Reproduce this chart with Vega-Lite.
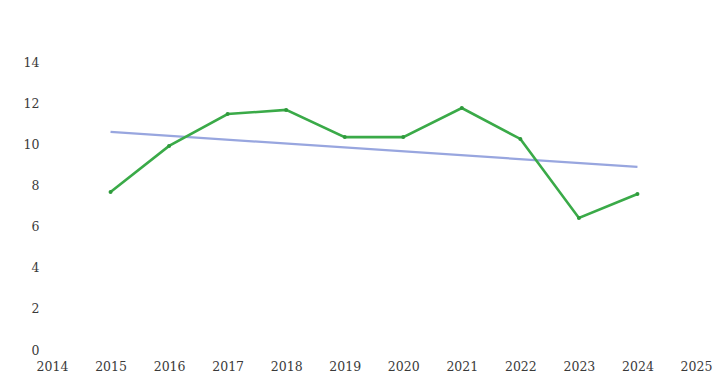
{
  "$schema": "https://vega.github.io/schema/vega-lite/v6.json",
  "autosize": "none",
  "width": 644,
  "height": 288,
  "padding": {"left": 52, "top": 62, "right": 26, "bottom": 42},
  "background": "white",
  "config": {"view": {"stroke": null}, "axis": {"labelFont": "DejaVu Serif"}},
  "datasets": {
    "main": [
      {"year": 2015, "value": 7.68},
      {"year": 2016, "value": 9.92},
      {"year": 2017, "value": 11.47},
      {"year": 2018, "value": 11.67},
      {"year": 2019, "value": 10.35},
      {"year": 2020, "value": 10.35},
      {"year": 2021, "value": 11.76},
      {"year": 2022, "value": 10.26},
      {"year": 2023, "value": 6.42},
      {"year": 2024, "value": 7.58}
    ],
    "trend": [
      {"year": 2015, "value": 10.6},
      {"year": 2024, "value": 8.9}
    ]
  },
  "encoding": {
    "x": {
      "field": "year", "type": "quantitative",
      "scale": {"domain": [2014, 2025], "nice": false, "zero": false},
      "axis": {"title": null, "values": [2014,2015,2016,2017,2018,2019,2020,2021,2022,2023,2024,2025], "format": "d", "grid": false, "domain": false, "ticks": false, "labelFlush": false, "labelFont": "DejaVu Serif", "labelFontSize": 12.5, "labelColor": "#3a3a3a", "labelPadding": 10}
    },
    "y": {
      "field": "value", "type": "quantitative",
      "scale": {"domain": [0, 14], "nice": false},
      "axis": {"title": null, "values": [0,2,4,6,8,10,12,14], "grid": false, "domain": false, "ticks": false, "labelFlush": false, "labelFont": "DejaVu Serif", "labelFontSize": 12.5, "labelColor": "#3a3a3a", "labelPadding": 13}
    }
  },
  "layer": [
    {
      "data": {"name": "trend"},
      "mark": {"type": "line", "color": "#98a6df", "strokeWidth": 2.2},
      "encoding": {}
    },
    {
      "data": {"name": "main"},
      "mark": {"type": "line", "color": "#3aaa48", "strokeWidth": 2.6},
      "encoding": {}
    },
    {
      "data": {"name": "main"},
      "mark": {"type": "circle", "color": "#2f9a3c", "size": 16, "opacity": 1},
      "encoding": {}
    }
  ]
}
